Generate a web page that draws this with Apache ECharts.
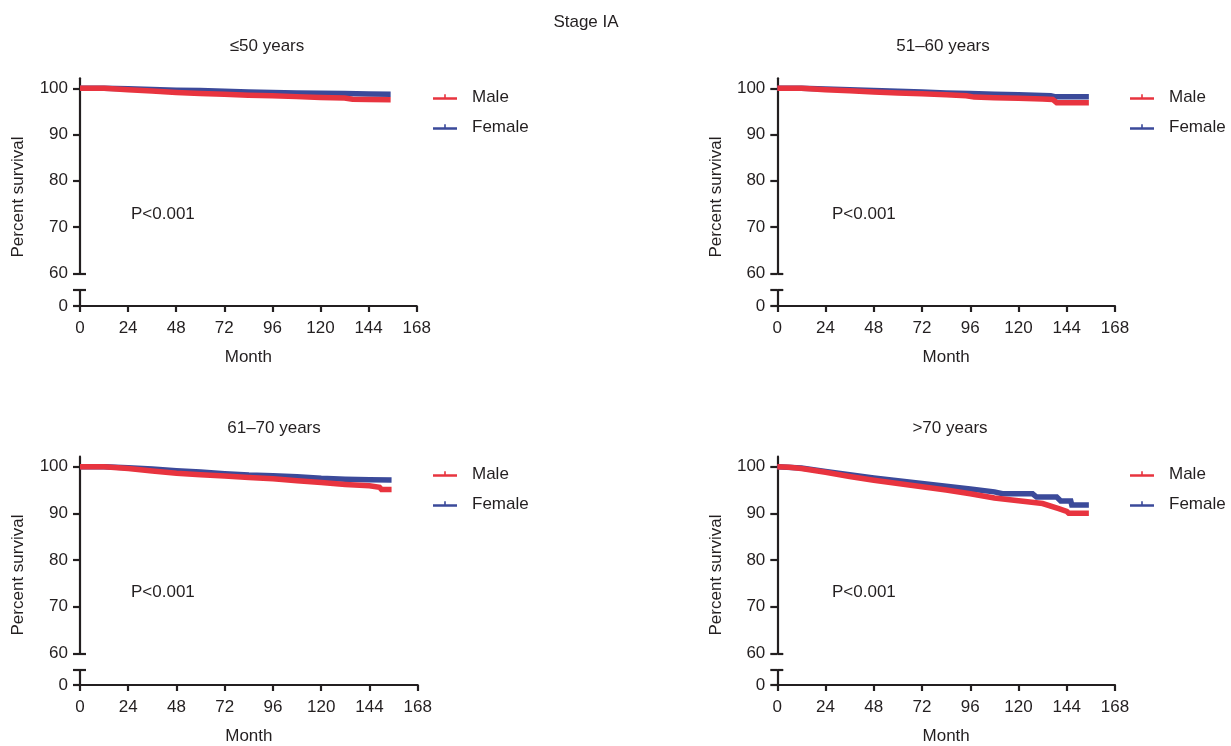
<!DOCTYPE html>
<html>
<head>
<meta charset="utf-8">
<script src="https://cdn.jsdelivr.net/npm/echarts@6/dist/echarts.min.js"></script>
<style>
html,body{margin:0;padding:0;background:#fff;}
#chart{width:1231px;height:746px;}
</style>
</head>
<body>
<div id="chart"></div>
<script>
// ---------- data (month, percent survival) ----------
const mainTitle = 'Stage IA';
const panelTitles = ['≤50 years', '51–60 years', '61–70 years', '>70 years'];
const seriesNames = ['Male', 'Female'];
const xTicks = [0, 24, 48, 72, 96, 120, 144, 168];
const yTicksUpper = [60, 70, 80, 90, 100];
const yTicksLower = [0];
const pText = 'P<0.001';

const p1Male = [[0,100],[12,100],[24,99.7],[36,99.4],[48,99.1],[60,98.85],[72,98.7],[84,98.5],[96,98.4],[108,98.2],[120,98.0],[132,97.9],[136,97.65],[144,97.6],[155,97.55]];
const p1Female = [[0,100],[12,100],[24,99.9],[36,99.75],[48,99.6],[60,99.5],[72,99.35],[84,99.2],[96,99.1],[108,99.0],[120,98.95],[132,98.85],[144,98.75],[155,98.74]];

const p2Male = [[0,100],[12,100],[24,99.7],[36,99.45],[48,99.2],[60,99.0],[72,98.8],[84,98.6],[94,98.4],[98,98.1],[108,97.95],[120,97.85],[132,97.7],[137,97.6],[139,96.9],[155,96.9]];
const p2Female = [[0,100],[12,100],[24,99.85],[36,99.7],[48,99.5],[60,99.35],[72,99.2],[84,99.0],[96,98.85],[108,98.7],[120,98.6],[132,98.45],[136,98.4],[138,98.2],[155,98.2]];

const p3Male = [[0,100],[12,100],[24,99.6],[36,99.1],[48,98.6],[60,98.3],[72,98.0],[84,97.7],[96,97.4],[108,97.0],[120,96.6],[132,96.2],[144,95.9],[149,95.6],[150,95.1],[155,95.1]];
const p3Female = [[0,100],[12,100],[24,99.8],[36,99.5],[48,99.15],[60,98.85],[72,98.5],[84,98.2],[96,98.05],[108,97.85],[120,97.5],[132,97.3],[144,97.2],[155,97.15]];

const p4Male = [[0,100],[6,99.9],[12,99.6],[24,98.8],[36,97.9],[48,97.1],[60,96.4],[72,95.7],[84,95.0],[96,94.2],[108,93.3],[120,92.7],[132,92.1],[140,91.0],[144,90.4],[145,90.0],[155,90.0]];
const p4Female = [[0,100],[12,99.7],[24,99.0],[36,98.3],[48,97.6],[60,97.0],[72,96.4],[84,95.8],[96,95.2],[108,94.6],[112,94.2],[127,94.2],[129,93.5],[139,93.5],[141,92.65],[146,92.65],[146.5,91.8],[155,91.8]];

const maleData = [p1Male, p2Male, p3Male, p4Male];
const femaleData = [p1Female, p2Female, p3Female, p4Female];

// ---------- layout / style ----------
const RED = '#E8343F';
const BLUE = '#3B4A9A';
const INK = '#231F20';
const FONT = 'Liberation Sans, Arial, Helvetica, sans-serif';
const FS = 17;

const layout = [
  {ax:80,    xEnd:416.7, y100:88.3,  y60:273.3, brk:290, y0:306, titleX:267, titleY:47,  legX:433,  legY:87,  pX:131, pY:215, nameX:18,  nameY:197},
  {ax:777.3, xEnd:1115,  y100:88.3,  y60:273.3, brk:290, y0:306, titleX:943, titleY:47,  legX:1130, legY:87,  pX:832, pY:215, nameX:716, nameY:197},
  {ax:80,    xEnd:417.7, y100:466.7, y60:653.3, brk:670, y0:685, titleX:274, titleY:429, legX:433,  legY:464, pX:131, pY:593, nameX:18,  nameY:575},
  {ax:777.3, xEnd:1115,  y100:466.7, y60:653.3, brk:670, y0:685, titleX:950, titleY:429, legX:1130, legY:464, pX:832, pY:593, nameX:716, nameY:575}
];

const axisLine = {show:true, lineStyle:{color:INK, width:2.2}};
const tickStyle = {color:INK, width:2.2};
const legendIcon = 'path://M0,3 L24,3 L24,5.5 L0,5.5 Z M11.2,0 L12.8,0 L12.8,3 L11.2,3 Z';

const grids = [], xAxes = [], yAxes = [], series = [], legends = [], titles = [], graphics = [];

titles.push({text: mainTitle, left: 586, top: 14, textAlign: 'center', padding: 0,
  textStyle:{fontFamily:FONT, fontSize:FS, fontWeight:'normal', color:INK}});

layout.forEach((L, i) => {
  const upperTop = L.y100 - 10;
  const upperH = L.y60 - upperTop;
  const yMaxUpper = 60 + 40 * upperH / (L.y60 - L.y100);
  const w = L.xEnd - L.ax;
  const gU = grids.length;
  grids.push({left: L.ax, top: upperTop, width: w, height: upperH, outerBoundsMode:'none', containLabel:false});
  const gL = grids.length;
  grids.push({left: L.ax, top: L.brk, width: w, height: L.y0 - L.brk, outerBoundsMode:'none', containLabel:false});

  // upper grid axes
  const xU = xAxes.length;
  xAxes.push({gridIndex: gU, type:'value', min:0, max:168, show:false});
  const yU = yAxes.length;
  yAxes.push({gridIndex: gU, type:'value', min:60, max:yMaxUpper, position:'left',
    axisLine: axisLine, splitLine:{show:false},
    axisTick:{show:true, length:7, lineStyle:tickStyle, customValues: yTicksUpper},
    axisLabel:{show:true, customValues: yTicksUpper, fontSize:FS, fontFamily:FONT, color:INK, margin:12}});
  // cap at 60 (inside half of the break mark)
  yAxes.push({gridIndex: gU, type:'value', min:60, max:yMaxUpper, position:'left',
    axisLine:{show:false}, splitLine:{show:false}, axisLabel:{show:false},
    axisTick:{show:true, inside:true, length:6, lineStyle:tickStyle, customValues:[60]}});

  // lower grid axes
  xAxes.push({gridIndex: gL, type:'value', min:0, max:168, interval:24, position:'bottom',
    axisLine: axisLine, splitLine:{show:false},
    axisTick:{show:true, length:6, lineStyle:tickStyle, customValues: xTicks},
    axisLabel:{show:true, customValues: xTicks, fontSize:FS, fontFamily:FONT, color:INK, margin:14},
    name:'Month', nameLocation:'middle', nameGap:43,
    nameTextStyle:{fontSize:FS, fontFamily:FONT, color:INK}});
  yAxes.push({gridIndex: gL, type:'value', min:0, max:1, position:'left',
    axisLine: axisLine, splitLine:{show:false},
    axisTick:{show:true, length:7, lineStyle:tickStyle, customValues:[0,1]},
    axisLabel:{show:true, customValues: yTicksLower, fontSize:FS, fontFamily:FONT, color:INK, margin:12}});
  yAxes.push({gridIndex: gL, type:'value', min:0, max:1, position:'left',
    axisLine:{show:false}, splitLine:{show:false}, axisLabel:{show:false},
    axisTick:{show:true, inside:true, length:6, lineStyle:tickStyle, customValues:[1]}});

  // series: female first so male draws on top
  series.push({name: seriesNames[1], type:'line', xAxisIndex: xU, yAxisIndex: yU,
    data: femaleData[i], showSymbol:false, symbol:'none', animation:false,
    lineStyle:{color:BLUE, width:5.5, cap:'butt', join:'miter'}, itemStyle:{color:BLUE}, z:2});
  series.push({name: seriesNames[0], type:'line', xAxisIndex: xU, yAxisIndex: yU,
    data: maleData[i], showSymbol:false, symbol:'none', animation:false,
    lineStyle:{color:RED, width:5.5, cap:'butt', join:'miter'}, itemStyle:{color:RED}, z:3});

  legends.push({orient:'vertical', left: L.legX, top: L.legY, padding:0, itemWidth:24, itemHeight:5.5,
    itemGap:10, icon: legendIcon, selectedMode:false,
    data: seriesNames.map(n => ({name:n, icon: legendIcon})),
    textStyle:{fontSize:FS, fontFamily:FONT, color:INK, lineHeight:20, padding:[0,0,0,10]}});

  titles.push({text: panelTitles[i], left: L.titleX, top: L.titleY - 9, textAlign:'center', padding:0,
    textStyle:{fontFamily:FONT, fontSize:FS, fontWeight:'normal', color:INK}});
  titles.push({text: pText, left: L.pX, top: L.pY - 9, padding:0,
    textStyle:{fontFamily:FONT, fontSize:FS, fontWeight:'normal', color:INK}});

  graphics.push({type:'text', x: L.nameX, y: L.nameY, rotation: Math.PI/2,
    style:{text:'Percent survival', fontSize:FS, fontFamily:FONT, fill:INK,
      textAlign:'center', textVerticalAlign:'middle'}});
});

const chart = echarts.init(document.getElementById('chart'), null, {renderer:'canvas'});
chart.setOption({
  backgroundColor:'#ffffff',
  animation:false,
  title: titles,
  grid: grids,
  xAxis: xAxes,
  yAxis: yAxes,
  legend: legends,
  series: series,
  graphic: graphics
});
</script>
</body>
</html>
